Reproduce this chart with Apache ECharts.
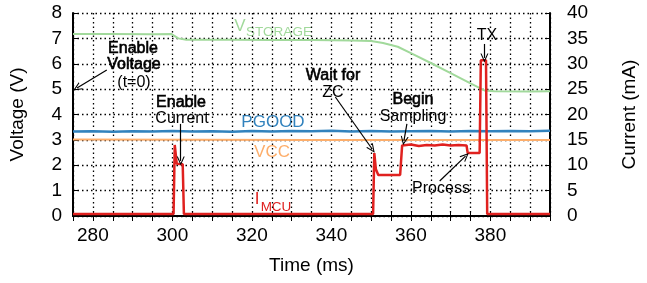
<!DOCTYPE html>
<html>
<head>
<meta charset="utf-8">
<script src="https://cdn.jsdelivr.net/npm/echarts@6/dist/echarts.min.js"></script>
<style>
  html, body { margin: 0; padding: 0; background: #fff; }
  #chart { width: 647px; height: 283px; }
</style>
</head>
<body>
<div id="chart"></div>
<script>
// time in ms, voltages in V (left axis)
var vStorage = [[275, 7.17], [285, 7.17], [295, 7.16], [299.8, 7.17], [301.5, 7.0], [303.5, 6.95],
    [315, 6.95], [325, 6.94], [335, 6.94], [345, 6.92], [350, 6.9], [353, 6.82], [356.7, 6.67],
    [360, 6.42], [365, 6.03], [370, 5.63], [375, 5.23], [378.5, 4.95], [381, 4.92], [390, 4.91], [395, 4.92]];
var pGood = [[275, 3.33], [280, 3.34], [285, 3.32], [290, 3.34], [295, 3.33], [300, 3.35], [305, 3.33],
    [310, 3.34], [315, 3.32], [320, 3.35], [325, 3.33], [330, 3.35], [335, 3.34], [340, 3.36],
    [345, 3.33], [350, 3.35], [355, 3.33], [360, 3.34], [365, 3.35], [370, 3.33], [375, 3.35],
    [380, 3.34], [385, 3.35], [390, 3.34], [395, 3.36]];
var vcc = [[275, 3.01], [335, 3.0], [395, 3.0]];
// current in mA (right axis)
var iMcu = [[275, 0.4], [300.3, 0.4], [300.6, 14.0], [301.1, 10.3], [302.6, 10.2], [302.9, 0.4],
    [350.5, 0.4], [350.8, 12.4], [351.2, 9.2], [351.8, 8.1], [357.3, 8.1], [357.8, 13.9],
    [360, 14.1], [362, 13.8], [364, 14.0], [366, 13.9], [368, 14.1], [370, 13.9], [372, 14.0],
    [374.0, 13.9], [374.3, 12.4], [377.3, 12.4], [377.6, 30.7], [378.9, 30.7], [379.2, 0.4], [395, 0.4]];

// annotation arrows [tail, head] in (ms, V)
var arrows = [
    [[283.5, 5.75], [276, 5.04]],
    [[302.1, 3.63], [302.1, 2.17]],
    [[341, 4.69], [350.25, 2.64]],
    [[359, 3.63], [358.25, 2.96]],
    [[367.25, 1.38], [373.75, 2.36]],
    [[378.5, 6.78], [378.5, 6.23]]
];

var FONT = '"Liberation Sans", Arial, sans-serif';

// text labels placed on the page
var notes = [
    { t: 'Enable', x: 133, y: 49, b: true },
    { t: 'Voltage', x: 134, y: 65, b: true },
    { t: '(t=0)', x: 134, y: 83 },
    { t: 'Enable', x: 181, y: 103, b: true },
    { t: 'Current', x: 182, y: 119 },
    { t: 'Wait for', x: 333, y: 76, b: true },
    { t: 'ZC', x: 333, y: 93 },
    { t: 'Begin', x: 413, y: 100, b: true },
    { t: 'Sampling', x: 413, y: 117 },
    { t: 'Process', x: 441, y: 189 },
    { t: 'TX', x: 487, y: 36 }
];
var seriesTags = [
    { t: 'V', x: 240, y: 26, s: 17, c: '#a1d99b' },
    { t: 'STORAGE', x: 279, y: 32, s: 13.5, c: '#a1d99b' },
    { t: 'PGOOD', x: 273, y: 122, s: 17, c: '#3182bd' },
    { t: 'VCC', x: 272, y: 152, s: 17, c: '#fdae6b' },
    { t: 'I', x: 257, y: 199, s: 17, c: '#e0211f' },
    { t: 'MCU', x: 276, y: 207, s: 13.5, c: '#e0211f' }
];

var graphics = [];
notes.forEach(function (n) {
    // "bold" lines in the original are only slightly heavier, so a thin stroke is used
    graphics.push({
        type: 'text', x: n.x, y: n.y, silent: true,
        style: { text: n.t, fill: '#000', align: 'center', verticalAlign: 'middle',
            stroke: n.b ? '#000' : null, lineWidth: n.b ? 0.6 : 0,
            font: '16px ' + FONT }
    });
});
seriesTags.forEach(function (n) {
    graphics.push({
        type: 'text', x: n.x, y: n.y, silent: true,
        style: { text: n.t, fill: n.c, align: 'center', verticalAlign: 'middle', font: n.s + 'px ' + FONT }
    });
});

var dotted = { show: true, lineStyle: { color: '#000', width: 1.3, type: [1.5, 3] } };
var blackLine = { show: true, lineStyle: { color: '#000', width: 2 } };
var inTick = { show: true, inside: true, length: 5, lineStyle: { color: '#000', width: 1 } };
var labelStyle = { color: '#000', fontSize: 19, fontFamily: FONT };
var nameStyle = { color: '#000', fontSize: 19, fontFamily: FONT };

var chart = echarts.init(document.getElementById('chart'), null, { renderer: 'canvas' });
chart.setOption({
    animation: false,
    backgroundColor: '#fff',
    grid: { left: 73, right: 94, top: 13, bottom: 67, containLabel: false },
    graphic: graphics,
    xAxis: [{
        type: 'value', min: 275, max: 395, interval: 5, position: 'bottom',
        axisLine: blackLine, axisTick: inTick, splitLine: dotted,
        axisLabel: Object.assign({ margin: 10, formatter: function (v) { return v % 20 === 0 ? String(v) : ''; } }, labelStyle),
        name: 'Time (ms)', nameLocation: 'middle', nameGap: 40, nameTextStyle: nameStyle
    }, {
        type: 'value', min: 275, max: 395, interval: 5, position: 'top',
        axisLine: blackLine, axisTick: inTick, splitLine: { show: false }, axisLabel: { show: false }
    }],
    yAxis: [{
        type: 'value', min: 0, max: 8, interval: 1, position: 'left',
        axisLine: blackLine, axisTick: inTick, splitLine: dotted,
        axisLabel: Object.assign({ margin: 11 }, labelStyle),
        name: 'Voltage (V)', nameLocation: 'middle', nameGap: 46, nameTextStyle: nameStyle
    }, {
        type: 'value', min: 0, max: 40, interval: 5, position: 'right',
        axisLine: blackLine, axisTick: inTick, splitLine: { show: false },
        axisLabel: Object.assign({ margin: 17 }, labelStyle),
        name: 'Current (mA)', nameLocation: 'middle', nameGap: 70, nameTextStyle: nameStyle
    }],
    series: [{
        name: 'VSTORAGE', type: 'line', data: vStorage, showSymbol: false, silent: true,
        lineStyle: { color: '#a1d99b', width: 2 }
    }, {
        name: 'PGOOD', type: 'line', data: pGood, showSymbol: false, silent: true,
        lineStyle: { color: '#3182bd', width: 2.5 }
    }, {
        name: 'VCC', type: 'line', data: vcc, showSymbol: false, silent: true,
        lineStyle: { color: '#fdae6b', width: 2 },
        markLine: {
            silent: true, animation: false,
            symbol: ['none', 'path://M0,10 L5,0 L10,10 L8.6,10 L5,2.8 L1.4,10 Z'],
            symbolSize: [8, 9],
            label: { show: false },
            lineStyle: { color: '#000', width: 1.2, type: 'solid' },
            data: arrows.map(function (a) { return [{ coord: a[0] }, { coord: a[1] }]; })
        }
    }, {
        name: 'IMCU', type: 'line', yAxisIndex: 1, data: iMcu, showSymbol: false, silent: true,
        lineStyle: { color: '#e0211f', width: 2.5 }
    }]
});
</script>
</body>
</html>
